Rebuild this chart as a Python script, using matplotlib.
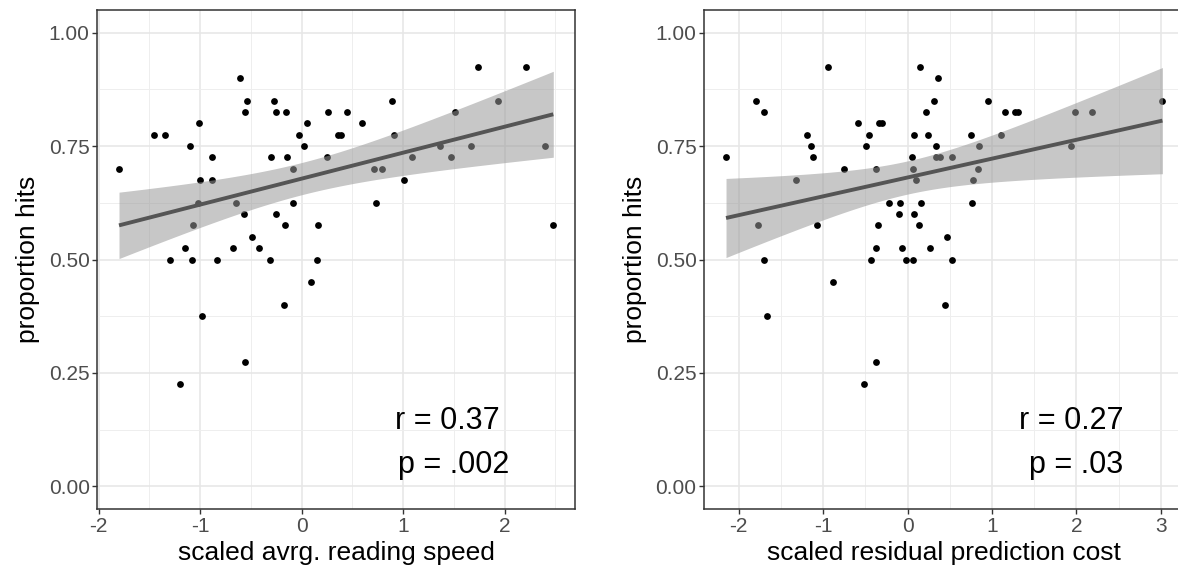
import matplotlib
matplotlib.use("Agg")
import matplotlib.pyplot as plt
from matplotlib.ticker import MultipleLocator, FormatStrFormatter
import numpy as np

plt.rcParams["font.family"] = ["Liberation Sans", "DejaVu Sans"]
plt.rcParams["axes.unicode_minus"] = False

# per-subject values: scaled reading speed vs. proportion of hits
speed_x = [
    -1.80, -1.46, -1.35, -1.30, -1.20, -0.98, -0.56, -0.17,
    -0.61, -0.54, -0.56, -0.27, -0.25, -0.15, 0.26, 0.45,
    -1.01, 0.05, -0.03, 0.36, 0.39, -1.10, 0.02,
    -0.88, -0.30, -0.14, 0.25, -0.09, -1.00, -0.88,
    -1.02, -0.65, -0.09, -0.57, -0.25, -1.07, -0.16, 0.16,
    -0.49, -1.15, -0.68, -0.42, -1.08, -0.83, -0.31, 0.15, 0.09,
    0.59, 0.89, 0.91, 0.71, 0.79, 0.73, 1.01, 1.09, 1.36, 1.47,
    1.51, 1.67, 1.74, 1.94, 2.21, 2.40, 2.48,
]
speed_hits = [
    0.700, 0.775, 0.775, 0.500, 0.225, 0.375, 0.275, 0.400,
    0.900, 0.850, 0.825, 0.850, 0.825, 0.825, 0.825, 0.825,
    0.800, 0.800, 0.775, 0.775, 0.775, 0.750, 0.750,
    0.725, 0.725, 0.725, 0.725, 0.700, 0.675, 0.675,
    0.625, 0.625, 0.625, 0.600, 0.600, 0.575, 0.575, 0.575,
    0.550, 0.525, 0.525, 0.525, 0.500, 0.500, 0.500, 0.500, 0.450,
    0.800, 0.850, 0.775, 0.700, 0.700, 0.625, 0.675, 0.725, 0.750, 0.725,
    0.825, 0.750, 0.925, 0.850, 0.925, 0.750, 0.575,
]

# per-subject values: scaled residual prediction cost vs. proportion of hits
cost_x = [
    -2.15, -1.79, -1.70, -1.77, -1.70, -1.67, -1.32, -1.19, -1.14, -1.12,
    -1.07, -0.94, -0.88, -0.52, -0.37, 0.45, 1.98, 2.19, 1.94, 3.02,
    0.15, 0.36, 0.31, 0.95, 0.22, 1.15, 1.27, 1.31,
    -0.59, -0.34, -0.30, -0.46, 0.08, 0.24, 0.75, 1.11,
    -0.49, 0.34, 0.85, 0.05, 0.34, 0.39, 0.53,
    -0.75, -0.37, 0.07, 0.83, 0.10, 0.77,
    -0.22, -0.09, 0.16, 0.76, -0.10, 0.08, -0.35, 0.14,
    0.47, -0.37, -0.06, 0.27, -0.43, -0.02, 0.07, 0.53,
]
cost_hits = [
    0.725, 0.850, 0.825, 0.575, 0.500, 0.375, 0.675, 0.775, 0.750, 0.725,
    0.575, 0.925, 0.450, 0.225, 0.275, 0.400, 0.825, 0.825, 0.750, 0.850,
    0.925, 0.900, 0.850, 0.850, 0.825, 0.825, 0.825, 0.825,
    0.800, 0.800, 0.800, 0.775, 0.775, 0.775, 0.775, 0.775,
    0.750, 0.750, 0.750, 0.725, 0.725, 0.725, 0.725,
    0.700, 0.700, 0.700, 0.700, 0.675, 0.675,
    0.625, 0.625, 0.625, 0.625, 0.600, 0.600, 0.575, 0.575,
    0.550, 0.525, 0.525, 0.525, 0.500, 0.500, 0.500, 0.500,
]

x_labels = ["scaled avrg. reading speed", "scaled residual prediction cost"]
r_labels = ["r = 0.37", "r = 0.27"]
p_labels = ["p = .002", "p = .03"]
r_pos = [(1.44, 0.145), (1.935, 0.145)]
p_pos = [(1.50, 0.047), (2.00, 0.047)]

T_CRIT = 1.998  # t(0.975, df = 63)


def lm_band(x, y, n_grid=80):
    x = np.asarray(x)
    y = np.asarray(y)
    n = len(x)
    slope, icpt = np.polyfit(x, y, 1)
    resid = y - (icpt + slope * x)
    s = np.sqrt(np.sum(resid ** 2) / (n - 2))
    sxx = np.sum((x - x.mean()) ** 2)
    grid = np.linspace(x.min(), x.max(), n_grid)
    fit = icpt + slope * grid
    se = s * np.sqrt(1 / n + (grid - x.mean()) ** 2 / sxx)
    return grid, fit, fit - T_CRIT * se, fit + T_CRIT * se


def style_panel(ax):
    ax.set_ylim(-0.05, 1.05)
    ax.yaxis.set_major_locator(MultipleLocator(0.25))
    ax.yaxis.set_minor_locator(MultipleLocator(0.125))
    ax.yaxis.set_major_formatter(FormatStrFormatter("%.2f"))
    ax.xaxis.set_major_locator(MultipleLocator(1))
    ax.xaxis.set_minor_locator(MultipleLocator(0.5))
    ax.grid(which="major", color="#e6e6e6", lw=1.1)
    ax.grid(which="minor", color="#eeeeee", lw=0.7)
    ax.set_axisbelow(True)
    for sp in ax.spines.values():
        sp.set_color("#333333")
        sp.set_linewidth(1.1)
    ax.tick_params(which="major", length=3.5, width=1.0, color="#333333",
                   labelsize=15, labelcolor="#4d4d4d", pad=2)
    ax.tick_params(which="minor", length=0)
    ax.set_ylabel("proportion hits", fontsize=19, labelpad=6)


fig = plt.figure(figsize=(11.78, 5.79), dpi=100)
ax_l = fig.add_axes([0.0826, 0.1209, 0.4055, 0.8618])
ax_r = fig.add_axes([0.5978, 0.1209, 0.4075, 0.8618])

panels = [(ax_l, speed_x, speed_hits), (ax_r, cost_x, cost_hits)]
for i, (ax, xs, ys) in enumerate(panels):
    ax.scatter(xs, ys, s=24, color="black", linewidths=0, zorder=2)
    grid, fit, lo, hi = lm_band(xs, ys)
    ax.fill_between(grid, lo, hi, color="#999999", alpha=0.55, lw=0, zorder=3)
    ax.plot(grid, fit, color="#555555", lw=2.8, zorder=4, solid_capstyle="butt")
    ax.margins(x=0.05)
    style_panel(ax)
    ax.set_xlabel(x_labels[i], fontsize=19, labelpad=4)
    ax.text(*r_pos[i], r_labels[i], fontsize=22, ha="center", va="center", zorder=5)
    ax.text(*p_pos[i], p_labels[i], fontsize=22, ha="center", va="center", zorder=5)

fig.savefig("out.png", dpi=100)
